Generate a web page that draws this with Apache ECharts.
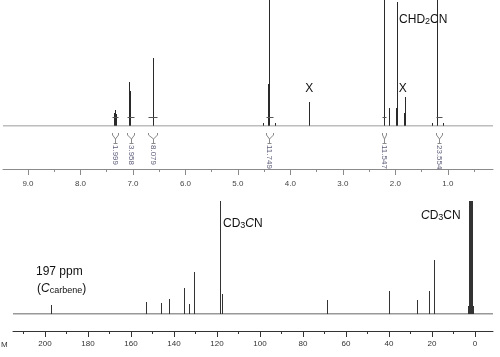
<!DOCTYPE html>
<html><head><meta charset="utf-8">
<script src="https://cdn.jsdelivr.net/npm/echarts@6/dist/echarts.min.js"></script>
<style>html,body{margin:0;padding:0;background:#fff}#c{width:500px;height:357px}</style>
</head><body><div id="c"></div>
<script>
// ---------- 1H spectrum (top) ----------
const hRange = [0.14, 9.476];
const hPeakPpm    = [7.36, 7.34, 7.32, 7.08, 7.07, 7.05, 6.62, 6.61, 4.52, 4.42, 4.41, 4.30, 3.65, 3.64, 2.22, 2.21, 2.12, 1.99, 1.97, 1.965, 1.83, 1.82, 1.30, 1.21, 1.20, 1.10];
const hPeakHeight = [13,   16,   12,   18,   44,   35,   43,   68,   3,    42,   200,  3,    16,   24,   31,   200,  18,   18,   81,   124,   13,   29,   3,    40,   200,  3];
const hTicks = [9, 8, 7, 6, 5, 4, 3, 2, 1];
const hMinorTicks = [8.5, 7.5, 6.5, 5.5, 4.5, 3.5, 2.5, 1.5, 0.5];
const hIntFrom  = [7.40, 7.11, 6.71, 4.47, 2.26, 1.23];
const hIntTo    = [7.29, 6.98, 6.54, 4.34, 2.17, 1.12];
const hIntValue = ['1.999', '3.958', '8.079', '11.749', '11.547', '23.554'];
const hLabelPpm  = [3.64, 1.86, 1.93];
const hLabelY    = [38, 38, 107];
const hLabelText = ['{n|X}', '{n|X}', '{n|CHD}{s|2}{n|CN}'];
const hLabelAlign = ['center', 'center', 'left'];

// ---------- 13C spectrum (bottom) ----------
const cRange = [-8.4, 214.9];
const cPeakPpm    = [197.2, 152.9, 146.0, 142.2, 135.3, 133.2, 130.6, 118.8, 118.6, 117.5, 68.7, 39.9, 26.8, 21.4, 18.9, 3.2, 2.8, 2.45, 2.1, 1.75, 1.4, 1.0];
const cPeakHeight = [9,     12,    11,    15,    26,    10,    42,    56,    200,   20,    14,   23,   14,   23,   54,   8,   200, 200,  200, 200,  200, 8];
const cTicks = [200, 180, 160, 140, 120, 100, 80, 60, 40, 20, 0];
const cMinorTicks = [210, 190, 170, 150, 130, 110, 90, 70, 50, 30, 10];
const cLabelPpm  = [117.2, 25.1, 204.2, 203.7];
const cLabelY    = [91, 99, 43, 26];
const cLabelText = ['{n|CD}{s|3}{i|C}{n|N}', '{i|C}{n|D}{s|3}{n|CN}', '{n|197 ppm}', '{n|(}{i|C}{s|carbene}{n|)}'];

const FONT = 'Liberation Sans, Arial, sans-serif';
const rich = {
  n: {fontSize: 12, fontFamily: FONT, color: '#111', lineHeight: 14, verticalAlign: 'bottom'},
  i: {fontSize: 12, fontFamily: FONT, color: '#111', fontStyle: 'italic', lineHeight: 14, verticalAlign: 'bottom'},
  s: {fontSize: 9, fontFamily: FONT, color: '#111', lineHeight: 9, verticalAlign: 'bottom', padding: [0, 0, 0, 0]}
};

function zip(a, b) { return a.map((v, i) => [v, b[i]]); }

function peakRender(color) {
  return function (params, api) {
    const p0 = api.coord([api.value(0), 0]);
    const p1 = api.coord([api.value(0), api.value(1)]);
    const cs = params.coordSys;
    const x = Math.round(p0[0]) + 0.5;
    const top = Math.max(p1[1], cs.y);
    return {type: 'line', shape: {x1: x, y1: p0[1], x2: x, y2: top},
      style: {stroke: color, lineWidth: 1}};
  };
}

function labelRender(texts, aligns) {
  return function (params, api) {
    const p = api.coord([api.value(0), api.value(1)]);
    return {type: 'text', x: p[0], y: p[1],
      style: {text: texts[params.dataIndex], rich: rich, align: aligns ? aligns[params.dataIndex] : 'left',
        verticalAlign: 'middle', fill: '#111', font: '12px ' + FONT}};
  };
}

function integralRender(params, api) {
  const a = api.coord([api.value(0), 0]);
  const b = api.coord([api.value(1), 0]);
  const x1 = Math.round(a[0]) + 0.5, x2 = Math.round(b[0]) + 0.5;
  const xc = Math.round((a[0] + b[0]) / 2) + 0.5;
  const y = Math.round(a[1]);
  const col = '#8a8a8a';
  return {type: 'group', children: [
    {type: 'line', shape: {x1: x1, y1: y - 8.5, x2: x2, y2: y - 8.5}, style: {stroke: '#555', lineWidth: 1}},
    {type: 'polyline', shape: {points: [[x1, y + 7], [x1, y + 9], [xc, y + 13], [xc, y + 17]]}, style: {stroke: col, lineWidth: 1, fill: null}},
    {type: 'polyline', shape: {points: [[x2, y + 7], [x2, y + 9], [xc, y + 13]]}, style: {stroke: col, lineWidth: 1, fill: null}},
    {type: 'line', shape: {x1: xc - 2, y1: y + 17.5, x2: xc + 2, y2: y + 17.5}, style: {stroke: col, lineWidth: 1}},
    {type: 'text', x: xc, y: y + 19, rotation: -Math.PI / 2,
      style: {text: hIntValue[params.dataIndex], x: 0, y: 0, align: 'left', verticalAlign: 'middle',
        font: '8px ' + FONT, fill: '#5d5d7a'}}
  ]};
}

const chart = echarts.init(document.getElementById('c'), null, {renderer: 'canvas'});
chart.setOption({
  animation: false,
  backgroundColor: '#fff',
  grid: [
    {left: 3, top: 0, width: 490, height: 126},
    {left: 13, top: 201, width: 480, height: 113}
  ],
  xAxis: [
    {gridIndex: 0, type: 'value', inverse: true, min: hRange[0], max: hRange[1], offset: 43, position: 'bottom',
      axisLine: {onZero: false, lineStyle: {color: '#8a8a8a', width: 1}},
      axisTick: {customValues: hTicks, length: 6, lineStyle: {color: '#8a8a8a'}},
      axisLabel: {customValues: hTicks, formatter: v => Number(v).toFixed(1), margin: 11, fontSize: 8, color: '#444', fontFamily: FONT},
      splitLine: {show: false}},
    {gridIndex: 0, type: 'value', inverse: true, min: hRange[0], max: hRange[1], offset: 43, position: 'bottom',
      axisLine: {show: false, onZero: false},
      axisTick: {customValues: hMinorTicks, length: 3, lineStyle: {color: '#8a8a8a'}},
      axisLabel: {show: false}, splitLine: {show: false}},
    {gridIndex: 1, type: 'value', inverse: true, min: cRange[0], max: cRange[1], offset: 17, position: 'bottom',
      axisLine: {onZero: false, lineStyle: {color: '#333', width: 1}},
      axisTick: {customValues: cTicks, length: 6, lineStyle: {color: '#333'}},
      axisLabel: {customValues: cTicks, formatter: v => String(v), margin: 9, fontSize: 8, color: '#333', fontFamily: FONT},
      splitLine: {show: false}},
    {gridIndex: 1, type: 'value', inverse: true, min: cRange[0], max: cRange[1], offset: 17, position: 'bottom',
      axisLine: {show: false, onZero: false},
      axisTick: {customValues: cMinorTicks, length: 3, lineStyle: {color: '#333'}},
      axisLabel: {show: false}, splitLine: {show: false}}
  ],
  yAxis: [
    {gridIndex: 0, type: 'value', min: 0, max: 126, show: false},
    {gridIndex: 1, type: 'value', min: 0, max: 113, show: false}
  ],
  series: [
    {type: 'line', xAxisIndex: 0, yAxisIndex: 0, data: [[hRange[0], 0], [hRange[1], 0]], symbol: 'none',
      lineStyle: {color: '#7a7a7a', width: 1}},
    {type: 'custom', xAxisIndex: 0, yAxisIndex: 0, data: zip(hPeakPpm, hPeakHeight), renderItem: peakRender('#2a2a2a')},
    {type: 'custom', xAxisIndex: 0, yAxisIndex: 0, data: zip(hIntFrom, hIntTo), renderItem: integralRender},
    {type: 'custom', xAxisIndex: 0, yAxisIndex: 0, data: zip(hLabelPpm, hLabelY), renderItem: labelRender(hLabelText, hLabelAlign)},
    {type: 'line', xAxisIndex: 2, yAxisIndex: 1, data: [[cRange[0], 0], [cRange[1], 0]], symbol: 'none',
      lineStyle: {color: '#333', width: 1}},
    {type: 'custom', xAxisIndex: 2, yAxisIndex: 1, data: zip(cPeakPpm, cPeakHeight), renderItem: peakRender('#333')},
    {type: 'custom', xAxisIndex: 2, yAxisIndex: 1, data: zip(cLabelPpm, cLabelY), renderItem: labelRender(cLabelText, null)}
  ],
  graphic: [
    {type: 'text', left: 1, top: 341, style: {text: 'M', font: '8px ' + FONT, fill: '#333'}}
  ]
});
</script>
</body></html>
